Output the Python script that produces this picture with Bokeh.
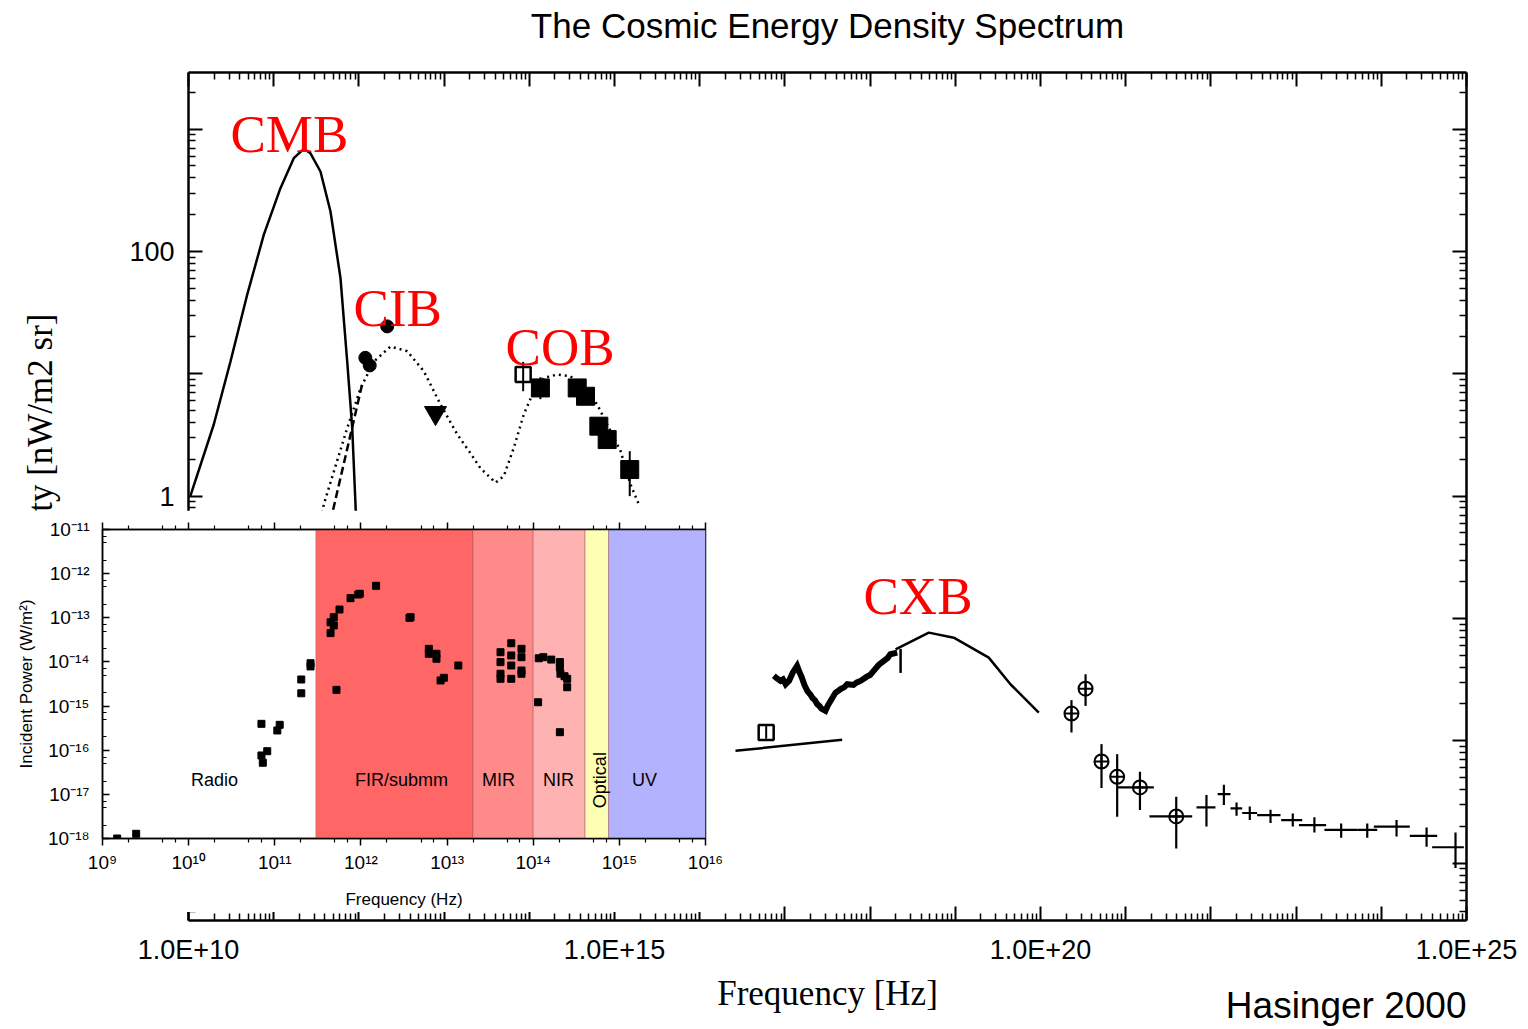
import math
from bokeh.plotting import figure
from bokeh.models import Range1d, LogAxis, FixedTicker, Label
from bokeh.embed import file_html
from bokeh.resources import INLINE
from bokeh.core.properties import value

SERIF = "Liberation Serif"
SANS = "Liberation Sans"

# ---------------- main plot data (frequency [Hz], intensity [nW/m2 sr]) ----------------
cmb_freq = [1.05e10, 1.98e10, 3.11e10, 4.89e10, 7.66e10, 1.2e11, 1.72e11, 2.26e11, 2.7e11,
            3.54e11, 4.64e11, 6.08e11, 7.29e11, 8.35e11, 9.12e11, 9.9e11]
cmb_int = [1.0, 3.85, 12.6, 44.4, 137, 329, 578, 689, 634, 450, 212, 60.5, 12.6, 3.61, 0.855, 0.2]

cib_model_freq = [3.0e11, 3.87e11, 7.3e11, 1.05e12, 1.5e12, 2.35e12, 3.69e12, 5.78e12, 9.08e12,
                  1.43e13, 2.04e13, 2.67e13, 4.01e13, 5.02e13, 6.58e13, 8.61e13, 1.13e14,
                  1.48e14, 2.12e14, 3.05e14, 4.36e14, 6.27e14, 8.98e14, 1.18e15, 1.54e15, 1.93e15]
cib_model_int = [0.3, 0.855, 3.61, 7.66, 12.6, 16.7, 15.3, 10.5, 5.61, 3.19, 2.24, 1.69, 1.29,
                 1.46, 2.48, 4.65, 7.2, 9.25, 9.85, 9.55, 7.66, 5.61, 3.4, 2.33, 1.25, 0.855]

cib_dash_freq = [4.0e11, 1.09e12]
cib_dash_int = [0.4, 8.16]

cib_pts_freq = [1.19e12, 1.34e12, 2.15e12]
cib_pts_int = [13.5, 11.7, 24.4]

cib_limit_freq = [7.93e12]
cib_limit_int = [4.79]

cob_open_freq = [8.47e13]
cob_open_int = [9.85]
cob_open_lo = [7.2]
cob_open_hi = [12.5]

cob_freq = [1.35e14, 3.65e14, 4.57e14, 6.55e14, 8.2e14, 1.51e15]
cob_int = [7.66, 7.66, 6.55, 3.73, 2.9, 1.65]
cob_lo = [6.2, 7.0, 6.0, 3.3, 2.6, 1.0]
cob_hi = [9.36, 8.4, 7.2, 4.2, 3.2, 2.33]

uv_line_freq = [2.63e16, 4.7e17]
uv_line_int = [8.28e-3, 1.02e-2]
uv_pt_freq = [6.03e16]
uv_pt_int = [1.17e-2]
uv_pt_lo = [1.04e-2]
uv_pt_hi = [1.32e-2]

sx_freq = [7.41e16, 8.0e16, 8.88e16, 9.5e16, 1.02e17, 1.12e17, 1.23e17, 1.39e17, 1.48e17,
           1.57e17, 1.7e17, 1.83e17, 2.0e17, 2.11e17, 2.25e17, 2.39e17, 2.55e17, 2.69e17,
           2.99e17, 3.2e17, 3.43e17, 3.93e17, 4.2e17, 4.5e17, 5.0e17, 5.39e17, 6.38e17,
           7.0e17, 7.71e17, 9.07e17, 1.0e18, 1.1e18, 1.26e18, 1.45e18, 1.6e18, 1.73e18, 2.08e18]
sx_int = [0.034, 0.0325, 0.0309, 0.0318, 0.029, 0.031, 0.0359, 0.041, 0.0365, 0.0333, 0.0285,
          0.0256, 0.0238, 0.0224, 0.0215, 0.02, 0.0192, 0.0183, 0.0176, 0.0195, 0.0212, 0.0248,
          0.0255, 0.0265, 0.0275, 0.029, 0.0286, 0.030, 0.0309, 0.0333, 0.0345, 0.0373, 0.0417,
          0.045, 0.0475, 0.051, 0.0526]
sx_bar_freq = [2.28e18]
sx_bar_lo = [0.0359]
sx_bar_hi = [0.0564]

cxb_freq = [1.99e18, 4.89e18, 9.6e18, 2.47e19, 4.44e19, 9.55e19]
cxb_int = [0.056, 0.0766, 0.0697, 0.0479, 0.029, 0.017]

gam_c_freq = [2.31e20, 3.38e20, 5.2e20, 7.94e20, 1.47e21, 3.92e21]
gam_c_int = [0.0167, 0.0267, 6.78e-3, 5.08e-3, 4.16e-3, 2.41e-3]
gam_c_ylo = [0.0117, 0.0193, 4.11e-3, 2.4e-3, 2.72e-3, 1.32e-3]
gam_c_yhi = [0.0215, 0.035, 9.4e-3, 7.78e-3, 5.58e-3, 3.49e-3]
gam_c_xlo = [2.31e20, 3.38e20, 5.2e20, 7.94e20, 7.94e20, 1.9e21]
gam_c_xhi = [2.31e20, 3.38e20, 5.2e20, 7.94e20, 2.14e21, 6.03e21]

gam_p_freq = [8.87e21, 1.42e22, 2.0e22, 2.86e22, 5.01e22, 9.14e22, 1.64e23, 3.38e23, 6.84e23,
              1.51e24, 3.4e24, 7.43e24]
gam_p_int = [2.86e-3, 3.67e-3, 2.8e-3, 2.57e-3, 2.47e-3, 2.25e-3, 2.05e-3, 1.87e-3, 1.87e-3,
             1.99e-3, 1.67e-3, 1.35e-3]
gam_p_ylo = [1.99e-3, 2.99e-3, 2.44e-3, 2.25e-3, 2.13e-3, 1.99e-3, 1.78e-3, 1.61e-3, 1.61e-3,
             1.65e-3, 1.36e-3, 9.14e-4]
gam_p_yhi = [3.61e-3, 4.38e-3, 3.13e-3, 2.91e-3, 2.73e-3, 2.55e-3, 2.37e-3, 2.11e-3, 2.11e-3,
             2.25e-3, 1.96e-3, 1.78e-3]
gam_p_xlo = [6.78e21, 1.2e22, 1.7e22, 2.33e22, 3.49e22, 6.68e22, 1.08e23, 2.15e23, 5.21e23,
             8.17e23, 2.16e24, 3.95e24]
gam_p_xhi = [1.13e22, 1.7e22, 2.33e22, 3.49e22, 6.56e22, 1.18e23, 2.25e23, 5.21e23, 8.95e23,
             2.16e24, 4.53e24, 9.31e24]

band_names_main = ["CMB", "CIB", "COB", "CXB"]
band_label_freq = [3.11e10, 8.65e11, 5.26e13, 8.37e17]
band_label_int = [918, 34.4, 16.7, 0.153]

main_x_label_ticks = [1e10, 1e15, 1e20, 1e25]
main_x_labels = ["1.0E+10", "1.0E+15", "1.0E+20", "1.0E+25"]
main_y_label_ticks = [1e2, 1e0]
main_y_labels = ["100", "1"]

# ---------------- inset data (frequency [Hz], incident power [W/m2]) ----------------
inset_freq = [1.48e9, 2.46e9, 7.0e10, 7.0e10, 7.26e10, 8.17e10, 1.07e11, 1.14e11, 2.03e11,
              2.03e11, 2.6e11, 2.6e11, 4.44e11, 4.44e11, 4.84e11, 4.84e11, 5.64e11, 5.2e11,
              7.57e11, 9.3e11, 9.7e11, 1.5e12, 3.66e12, 3.77e12, 6.14e12, 6.14e12, 7.53e12,
              7.53e12, 1.35e13, 8.4e12, 9.17e12, 4.17e13, 4.17e13, 4.17e13, 4.17e13, 5.56e13,
              5.56e13, 5.56e13, 5.56e13, 7.31e13, 7.31e13, 7.31e13, 7.31e13, 1.16e14, 1.31e14,
              1.62e14, 2.04e14, 2.04e14, 2.07e14, 2.31e14, 2.48e14, 2.48e14, 1.14e14, 2.04e14]
inset_power = [1.0e-18, 1.28e-18, 3.96e-16, 7.6e-17, 5.2e-17, 9.5e-17, 2.8e-16, 3.76e-16,
               4.0e-15, 1.95e-15, 9.35e-15, 7.9e-15, 4.5e-14, 7.9e-14, 6.7e-14, 1.03e-13,
               1.54e-13, 2.33e-15, 2.78e-13, 3.37e-13, 3.5e-13, 5.3e-13, 1.0e-13, 1.03e-13,
               1.98e-14, 1.53e-14, 1.53e-14, 1.18e-14, 8.3e-15, 3.8e-15, 4.37e-15, 1.66e-14,
               9.9e-15, 5.4e-15, 4.15e-15, 2.65e-14, 1.4e-14, 8.3e-15, 4.15e-15, 1.98e-14,
               1.28e-14, 6.4e-15, 5.4e-15, 1.21e-14, 1.28e-14, 1.13e-14, 9.9e-15, 7.6e-15,
               5.4e-15, 4.74e-15, 4.15e-15, 2.67e-15, 1.22e-15, 2.56e-16]

band_lo = [3e11, 2e13, 1e14, 4e14, 7.5e14]
band_hi = [2e13, 1e14, 4e14, 7.5e14, 1e16]
band_colors = ["#FF6666", "#FF8A8A", "#FFB2B2", "#FFFFB4", "#B2B2FF"]

region_names = ["Radio", "FIR/submm", "MIR", "NIR", "UV"]
region_freq = [2.0e10, 2.96e12, 3.95e13, 1.97e14, 1.96e15]
optical_name = ["Optical"]
optical_freq = [5.9e14]

inset_x_ticks = [1e9, 1e10, 1e11, 1e12, 1e13, 1e14, 1e15, 1e16]
inset_x_labels = ["10⁹", "10¹⁰", "10¹¹", "10¹²", "10¹³", "10¹⁴", "10¹⁵", "10¹⁶"]
inset_y_ticks = [1e-18, 1e-17, 1e-16, 1e-15, 1e-14, 1e-13, 1e-12, 1e-11]
inset_y_labels = ["10⁻¹⁸", "10⁻¹⁷", "10⁻¹⁶", "10⁻¹⁵", "10⁻¹⁴", "10⁻¹³", "10⁻¹²", "10⁻¹¹"]

PAGE_W, PAGE_H = 1528, 1029


def decades(a, b):
    return [float(f"1e{k}") for k in range(a, b + 1)]


def minors(a, b, mults):
    return [float(f"{m}e{k}") for k in range(a, b + 1) for m in mults]


# ---------------- main figure ----------------
p = figure(width=PAGE_W, height=PAGE_H, x_axis_type="log", y_axis_type="log",
           x_range=Range1d(1e10, 1e25), y_range=Range1d(3.4e-4, 2900),
           output_backend="svg", toolbar_location=None,
           min_border_left=188, min_border_right=62, min_border_top=72, min_border_bottom=109)
p.xgrid.visible = False
p.ygrid.visible = False
p.outline_line_color = None
p.background_fill_color = "white"
p.border_fill_color = "white"

xmaj = decades(10, 25)
ymaj = decades(-4, 3)
xticker = FixedTicker(ticks=xmaj, minor_ticks=minors(10, 24, range(2, 10)))
yticker = FixedTicker(ticks=ymaj, minor_ticks=minors(-4, 3, range(2, 10)))
xlab = dict(zip(main_x_label_ticks, main_x_labels))
ylab = dict(zip(main_y_label_ticks, main_y_labels))
x_over = {t: xlab.get(t, "") for t in xmaj}
y_over = {t: ylab.get(t, "") for t in ymaj}


def style_axis(ax, ticker, overrides, labels=True):
    ax.ticker = ticker
    ax.major_label_overrides = overrides
    ax.axis_line_width = 2.5
    ax.axis_line_color = "black"
    ax.major_tick_line_width = 2
    ax.minor_tick_line_width = 1.5
    ax.major_tick_in = 14
    ax.major_tick_out = 0
    ax.minor_tick_in = 7
    ax.minor_tick_out = 0
    ax.major_label_text_font = SANS
    ax.major_label_text_color = "black"
    if labels:
        ax.major_label_text_font_size = "27px"
        ax.major_label_standoff = 14
    else:
        ax.major_label_text_font_size = "0px"
        ax.major_label_standoff = 0


style_axis(p.xaxis[0], xticker, x_over)
style_axis(p.yaxis[0], yticker, y_over)
p.xaxis[0].axis_label = "Frequency [Hz]"
p.xaxis[0].axis_label_text_font = SERIF
p.xaxis[0].axis_label_text_font_size = "35px"
p.xaxis[0].axis_label_text_font_style = "normal"
p.xaxis[0].axis_label_text_color = "black"
p.xaxis[0].axis_label_standoff = 6

top_ax = LogAxis()
style_axis(top_ax, xticker, {t: "" for t in xmaj}, labels=False)
p.add_layout(top_ax, "above")
right_ax = LogAxis()
style_axis(right_ax, yticker, {t: "" for t in ymaj}, labels=False)
p.add_layout(right_ax, "right")

# curves
p.line(cmb_freq, cmb_int, line_color="black", line_width=2.5)
p.line(cib_model_freq, cib_model_int, line_color="black", line_width=2.5, line_dash="2 4")
p.line(cib_dash_freq, cib_dash_int, line_color="black", line_width=2.5, line_dash="8 4")
p.scatter(cib_pts_freq, cib_pts_int, marker="circle", size=13, color="black")
p.scatter(cib_limit_freq, cib_limit_int, marker="inverted_triangle", size=22, color="black")

p.segment(x0=cob_open_freq, y0=cob_open_lo, x1=cob_open_freq, y1=cob_open_hi,
          line_color="black", line_width=2)
p.scatter(cob_open_freq, cob_open_int, marker="square", size=15, fill_color=None,
          line_color="black", line_width=2.5)
p.segment(x0=cob_freq, y0=cob_lo, x1=cob_freq, y1=cob_hi, line_color="black", line_width=2)
p.scatter(cob_freq, cob_int, marker="square", size=18, color="black")

p.line(uv_line_freq, uv_line_int, line_color="black", line_width=2.5)
p.segment(x0=uv_pt_freq, y0=uv_pt_lo, x1=uv_pt_freq, y1=uv_pt_hi, line_color="black", line_width=2)
p.scatter(uv_pt_freq, uv_pt_int, marker="square", size=15, fill_color=None,
          line_color="black", line_width=2.5)

p.line(sx_freq, sx_int, line_color="black", line_width=6, line_join="miter")
p.segment(x0=sx_bar_freq, y0=sx_bar_lo, x1=sx_bar_freq, y1=sx_bar_hi, line_color="black", line_width=2.5)
p.line(cxb_freq, cxb_int, line_color="black", line_width=2.5)

p.segment(x0=gam_c_freq, y0=gam_c_ylo, x1=gam_c_freq, y1=gam_c_yhi, line_color="black", line_width=2.2)
p.segment(x0=gam_c_xlo, y0=gam_c_int, x1=gam_c_xhi, y1=gam_c_int, line_color="black", line_width=2.2)
p.scatter(gam_c_freq, gam_c_int, marker="circle_cross", size=14, fill_color=None,
          line_color="black", line_width=2)
p.segment(x0=gam_p_freq, y0=gam_p_ylo, x1=gam_p_freq, y1=gam_p_yhi, line_color="black", line_width=2.2)
p.segment(x0=gam_p_xlo, y0=gam_p_int, x1=gam_p_xhi, y1=gam_p_int, line_color="black", line_width=2.2)

p.text(x=band_label_freq, y=band_label_int, text=band_names_main, text_font=value(SERIF),
       text_font_size="53px", text_color="#FF0000", text_align="left", text_baseline="alphabetic")

# ---------------- transparent page-space overlay for free-standing texts ----------------
ov = figure(width=PAGE_W, height=PAGE_H, x_range=Range1d(0, PAGE_W), y_range=Range1d(0, PAGE_H),
            x_axis_location=None, y_axis_location=None, output_backend="svg",
            toolbar_location=None, min_border=0, margin=(-PAGE_H, 0, 0, 0))
ov.grid.visible = False
ov.outline_line_color = None
ov.background_fill_color = None
ov.border_fill_color = None
ov.add_layout(Label(x=827, y=PAGE_H - 25, text="The Cosmic Energy Density Spectrum",
                    text_align="center", text_baseline="middle", text_font=SANS,
                    text_font_size="35px", text_color="black"))
ov.add_layout(Label(x=40, y=PAGE_H - 313, angle=math.pi / 2, text="Intensity [nW/m2 sr]",
                    text_align="right", text_baseline="middle", text_font=SERIF,
                    text_font_size="35px", text_color="black"))
ov.add_layout(Label(x=1466, y=PAGE_H - 1005, text="Hasinger 2000", text_align="right",
                    text_baseline="alphabetic", text_font=SANS, text_font_size="37px",
                    text_color="black"))

# ---------------- inset figure ----------------
q = figure(width=730, height=402, x_axis_type="log", y_axis_type="log",
           x_range=Range1d(1e9, 1e16), y_range=Range1d(1e-18, 1e-11),
           output_backend="svg", toolbar_location=None,
           min_border_left=102, min_border_right=25, min_border_top=19, min_border_bottom=74,
           margin=(-519, 0, 0, 0))
q.xgrid.visible = False
q.ygrid.visible = False
q.background_fill_color = "white"
q.border_fill_color = "white"
q.outline_line_color = "black"
q.outline_line_width = 1.5

q.quad(left=band_lo, right=band_hi, bottom=1e-18, top=1e-11, fill_color=band_colors,
       line_color="#9a5050", line_alpha=0.45, line_width=1)
q.text(x=region_freq, y=2.1e-17, text=region_names, text_font=value(SANS), text_font_size="18px",
       text_color="black", text_align="center", text_baseline="middle")
q.text(x=optical_freq, y=2.1e-17, text=optical_name, text_font=value(SANS), text_font_size="18px",
       text_color="black", text_align="center", text_baseline="middle", angle=math.pi / 2)
q.scatter(inset_freq, inset_power, marker="square", size=7, color="black")

ixt = FixedTicker(ticks=inset_x_ticks, minor_ticks=minors(9, 15, [2, 5, 7]))
iyt = FixedTicker(ticks=inset_y_ticks, minor_ticks=minors(-18, -12, [2, 5, 7]))

bx = q.xaxis[0]
bx.ticker = ixt
bx.major_label_overrides = dict(zip(inset_x_ticks, inset_x_labels))
by = q.yaxis[0]
by.ticker = iyt
by.major_label_overrides = dict(zip(inset_y_ticks, inset_y_labels))
for ax in (bx, by):
    ax.axis_line_width = 1.5
    ax.major_tick_line_width = 1.5
    ax.minor_tick_line_width = 1.2
    ax.major_label_text_font = SANS
    ax.major_label_text_font_size = "19px"
    ax.major_label_text_color = "black"
    ax.axis_label_text_font = SANS
    ax.axis_label_text_font_size = "17px"
    ax.axis_label_text_font_style = "normal"
    ax.axis_label_text_color = "black"
bx.major_tick_out = 7
bx.major_tick_in = 0
bx.minor_tick_out = 4
bx.minor_tick_in = 0
bx.major_label_standoff = 6
bx.axis_label = "Frequency (Hz)"
bx.axis_label_standoff = 14
by.major_tick_in = 7
by.major_tick_out = 0
by.minor_tick_in = 4
by.minor_tick_out = 0
by.major_label_standoff = 13
by.axis_label = "Incident Power (W/m²)"
by.axis_label_standoff = 9

itop = LogAxis(ticker=ixt, major_label_overrides={t: "" for t in inset_x_ticks},
               major_label_text_font_size="0px", major_label_standoff=0,
               major_tick_out=7, major_tick_in=0, minor_tick_out=4, minor_tick_in=0,
               axis_line_width=1.5, major_tick_line_width=1.5, minor_tick_line_width=1.2)
q.add_layout(itop, "above")

open("out.html", "w").write(file_html([p, ov, q], INLINE))
